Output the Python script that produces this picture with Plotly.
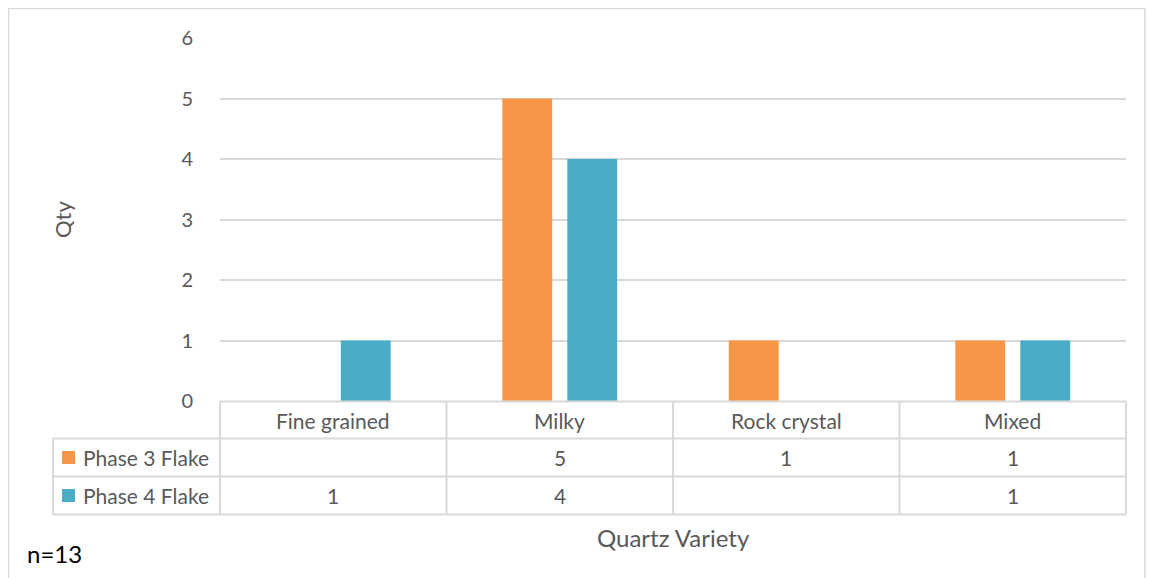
import plotly.graph_objects as go

categories = ["Fine grained", "Milky", "Rock crystal", "Mixed"]
series_names = ["Phase 3 Flake", "Phase 4 Flake"]
phase3 = [None, 5, 1, 1]
phase4 = [1, 4, None, 1]
colors = ["#F79646", "#4BACC6"]
y_ticks = [0, 1, 2, 3, 4, 5, 6]

OFF = 8  # page body margin offset
W, H = 1156 - OFF, 578 - OFF
# plot area in page pixels
L, R, T, B = 220, 1126, 38, 401
pw, ph = R - L, B - T

def px(x):
    return (x - L) / pw

def py(y):
    return (B - y) / ph

FONT = "Lato"
GREY = "#595959"
LINE = "#D9D9D9"

fig = go.Figure()
for name, vals, c in zip(series_names, [phase3, phase4], colors):
    fig.add_trace(go.Bar(x=categories, y=vals, name=name, marker_color=c,
                         marker_line_width=0, showlegend=False))

shapes = []
annotations = []

# outer chart border
shapes.append(dict(type="rect", xref="paper", yref="paper",
                   x0=px(8.5), x1=px(1145), y0=py(590), y1=py(8.5),
                   line=dict(color=LINE, width=1.5), fillcolor="rgba(0,0,0,0)", layer="below"))

# data table
row_y = [401.5, 438.5, 476.5, 514.5]
col_x = [L + i * pw / len(categories) for i in range(len(categories) + 1)]
left_x = 53
shapes.append(dict(type="line", xref="paper", yref="paper", x0=px(L), x1=px(R),
                   y0=py(row_y[0]), y1=py(row_y[0]), line=dict(color=LINE, width=2)))
for yy in row_y[1:]:
    shapes.append(dict(type="line", xref="paper", yref="paper", x0=px(left_x), x1=px(R),
                       y0=py(yy), y1=py(yy), line=dict(color=LINE, width=2)))
for xx in col_x:
    shapes.append(dict(type="line", xref="paper", yref="paper", x0=px(xx), x1=px(xx),
                       y0=py(row_y[0]), y1=py(row_y[-1]), line=dict(color=LINE, width=2)))
shapes.append(dict(type="line", xref="paper", yref="paper", x0=px(left_x), x1=px(left_x),
                   y0=py(row_y[1]), y1=py(row_y[-1]), line=dict(color=LINE, width=2)))

def txt(x, y, text, size, color=GREY, xanchor="center", angle=0):
    annotations.append(dict(x=px(x), y=py(y), xref="paper", yref="paper", text=text,
                            showarrow=False, xanchor=xanchor, yanchor="middle", textangle=angle,
                            font=dict(size=size, color=color, family=FONT)))

for i, cat in enumerate(categories):
    cx = (col_x[i] + col_x[i + 1]) / 2
    txt(cx, (row_y[0] + row_y[1]) / 2, cat, 21)

for r, (name, vals, c) in enumerate(zip(series_names, [phase3, phase4], colors)):
    cy = (row_y[r + 1] + row_y[r + 2]) / 2
    shapes.append(dict(type="rect", xref="paper", yref="paper",
                       x0=px(62), x1=px(75), y0=py(cy + 6.5), y1=py(cy - 6.5),
                       fillcolor=c, line=dict(width=0)))
    txt(81, cy, name, 21, xanchor="left")
    for i, v in enumerate(vals):
        if v is None:
            continue
        cx = (col_x[i] + col_x[i + 1]) / 2
        txt(cx, cy, str(v), 21)

txt(673, 537, "Quartz Variety", 24)
txt(63, 220, "Qty", 22, angle=-90)
txt(25, 553, "n=13", 24, color="#000000", xanchor="left")

fig.update_layout(
    width=W, height=H,
    margin=dict(l=L - OFF, r=(W + OFF) - R, t=T - OFF, b=(H + OFF) - B),
    paper_bgcolor="white", plot_bgcolor="white",
    barmode="group", bargap=0.426, bargroupgap=0.233,
    shapes=shapes, annotations=annotations,
    font=dict(family=FONT, color=GREY),
    xaxis=dict(showticklabels=False, showgrid=False, zeroline=False, showline=False, ticks=""),
    yaxis=dict(range=[0, 6], tickvals=y_ticks, showgrid=True, gridcolor=LINE, gridwidth=1.5,
               zeroline=False, showline=False, ticks="outside", ticklen=22, tickcolor="white",
               tickfont=dict(size=20, color=GREY, family=FONT)),
)

fig.write_html("out.html")
